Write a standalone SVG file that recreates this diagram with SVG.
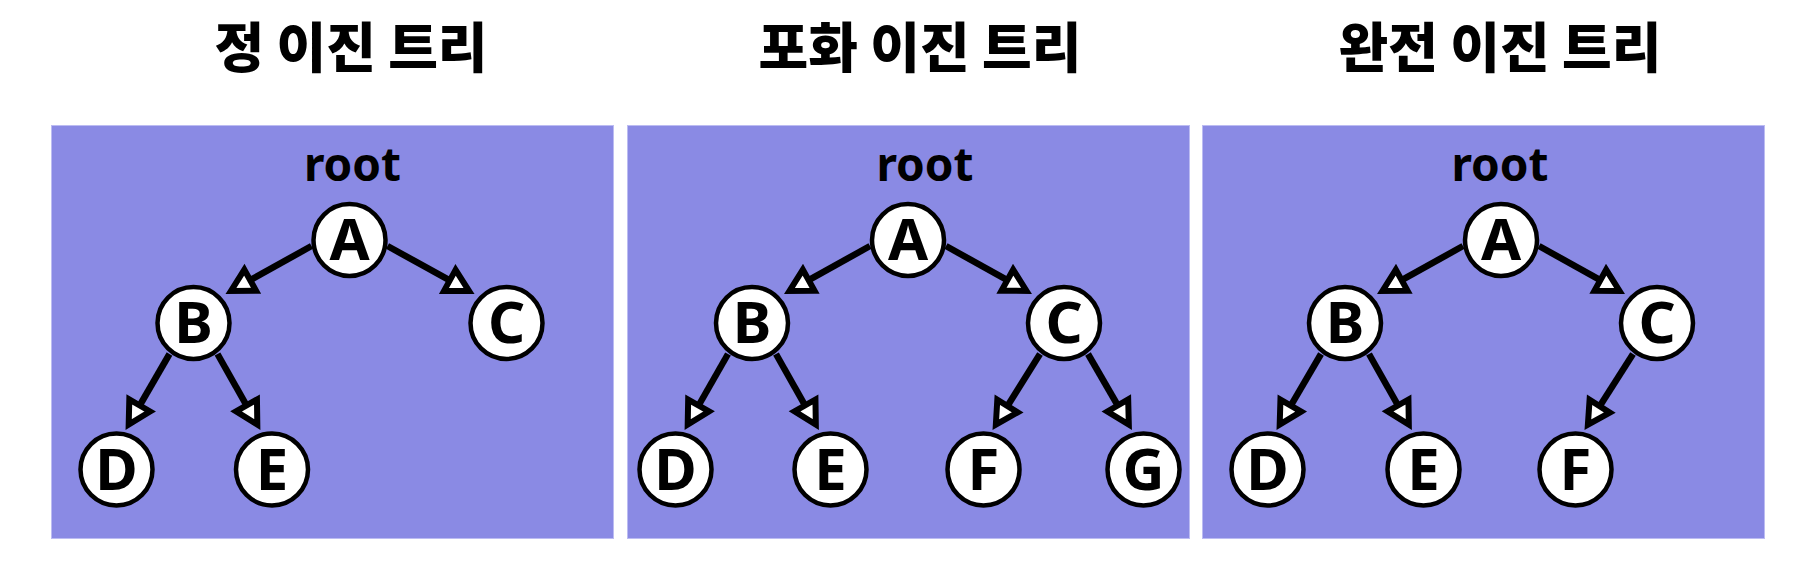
<svg xmlns="http://www.w3.org/2000/svg" width="1804" height="578" viewBox="0 0 1804 578">
  <defs>
    <style>
      .panel { fill: #8a8ae4; stroke: #bcbcf2; stroke-width: 1; }
      .title { font-family: "Noto Sans CJK KR", "Noto Sans", sans-serif; font-weight: 900; font-size: 54px; fill: #000; text-anchor: middle; }
      .root { font-family: "Noto Sans", "Open Sans", sans-serif; font-weight: 700; font-size: 46px; fill: #000; text-anchor: middle; }
      .node circle { fill: #fff; stroke: #000; stroke-width: 4.5; }
      .node text { font-family: "Noto Sans", "Open Sans", sans-serif; font-weight: 700; font-size: 58px; fill: #000; text-anchor: middle; }
      .edge { stroke: #000; stroke-width: 6.5; fill: none; marker-end: url(#arr); }
    </style>
    <marker id="arr" markerUnits="userSpaceOnUse" viewBox="-6 -20 44 40" markerWidth="44" markerHeight="40" refX="0" refY="0" orient="auto" overflow="visible">
      <path d="M0,-12 L22,0 L0,12 Z" fill="#fff" stroke="#000" stroke-width="6" stroke-linejoin="miter"/>
    </marker>
  </defs>

  <rect class="panel" x="51.5" y="125.5" width="562" height="413"/>
  <rect class="panel" x="627.5" y="125.5" width="562" height="413"/>
  <rect class="panel" x="1202.5" y="125.5" width="562" height="413"/>

  <text class="title" x="351" y="68">정 이진 트리</text>
  <text class="title" x="920" y="68">포화 이진 트리</text>
  <text class="title" x="1500" y="68">완전 이진 트리</text>

  <text class="root" x="352.5" y="180.5">root</text>
  <text class="root" x="925" y="180.5">root</text>
  <text class="root" x="1500" y="180.5">root</text>

  <g id="connectors">
    <path class="edge" d="M311.5,246 L250.2,280.2"/>
    <path class="edge" d="M387.5,246 L449.8,280.4"/>
    <path class="edge" d="M169.5,354 L139.7,405.5"/>
    <path class="edge" d="M217.5,354 L246.5,405.4"/>

    <path class="edge" d="M870,246 L808.7,280.2"/>
    <path class="edge" d="M946,246 L1007.3,280.2"/>
    <path class="edge" d="M728,354 L698.6,405.5"/>
    <path class="edge" d="M776,354 L805,405.4"/>
    <path class="edge" d="M1040,354 L1007.5,406"/>
    <path class="edge" d="M1088,354 L1117.8,405.5"/>

    <path class="edge" d="M1463,246 L1401.7,280.2"/>
    <path class="edge" d="M1539,246 L1600.3,280.2"/>
    <path class="edge" d="M1321,354 L1290.8,405.6"/>
    <path class="edge" d="M1369,354 L1398,405.4"/>
    <path class="edge" d="M1633,354 L1599.7,406.2"/>
  </g>

  <g id="p1-A" class="node"><circle cx="349.5" cy="240" r="36"/><text x="349.5" y="260">A</text></g>
  <g id="p1-B" class="node"><circle cx="193.5" cy="323" r="36"/><text x="193.5" y="343">B</text></g>
  <g id="p1-C" class="node"><circle cx="506.5" cy="323" r="36"/><text x="506.5" y="343">C</text></g>
  <g id="p1-D" class="node"><circle cx="116.5" cy="469.5" r="36"/><text x="116.5" y="489.5">D</text></g>
  <g id="p1-E" class="node"><circle cx="272" cy="469.5" r="36"/><text x="272" y="489.5">E</text></g>

  <g id="p2-A" class="node"><circle cx="908" cy="240" r="36"/><text x="908" y="260">A</text></g>
  <g id="p2-B" class="node"><circle cx="752" cy="323" r="36"/><text x="752" y="343">B</text></g>
  <g id="p2-C" class="node"><circle cx="1064" cy="323" r="36"/><text x="1064" y="343">C</text></g>
  <g id="p2-D" class="node"><circle cx="675.5" cy="469.5" r="36"/><text x="675.5" y="489.5">D</text></g>
  <g id="p2-E" class="node"><circle cx="830.5" cy="469.5" r="36"/><text x="830.5" y="489.5">E</text></g>
  <g id="p2-F" class="node"><circle cx="983.5" cy="469.5" r="36"/><text x="983.5" y="489.5">F</text></g>
  <g id="p2-G" class="node"><circle cx="1143.5" cy="469.5" r="36"/><text x="1143.5" y="489.5">G</text></g>

  <g id="p3-A" class="node"><circle cx="1501" cy="240" r="36"/><text x="1501" y="260">A</text></g>
  <g id="p3-B" class="node"><circle cx="1345" cy="323" r="36"/><text x="1345" y="343">B</text></g>
  <g id="p3-C" class="node"><circle cx="1657" cy="323" r="36"/><text x="1657" y="343">C</text></g>
  <g id="p3-D" class="node"><circle cx="1267.5" cy="469.5" r="36"/><text x="1267.5" y="489.5">D</text></g>
  <g id="p3-E" class="node"><circle cx="1423.5" cy="469.5" r="36"/><text x="1423.5" y="489.5">E</text></g>
  <g id="p3-F" class="node"><circle cx="1575.5" cy="469.5" r="36"/><text x="1575.5" y="489.5">F</text></g>
</svg>
